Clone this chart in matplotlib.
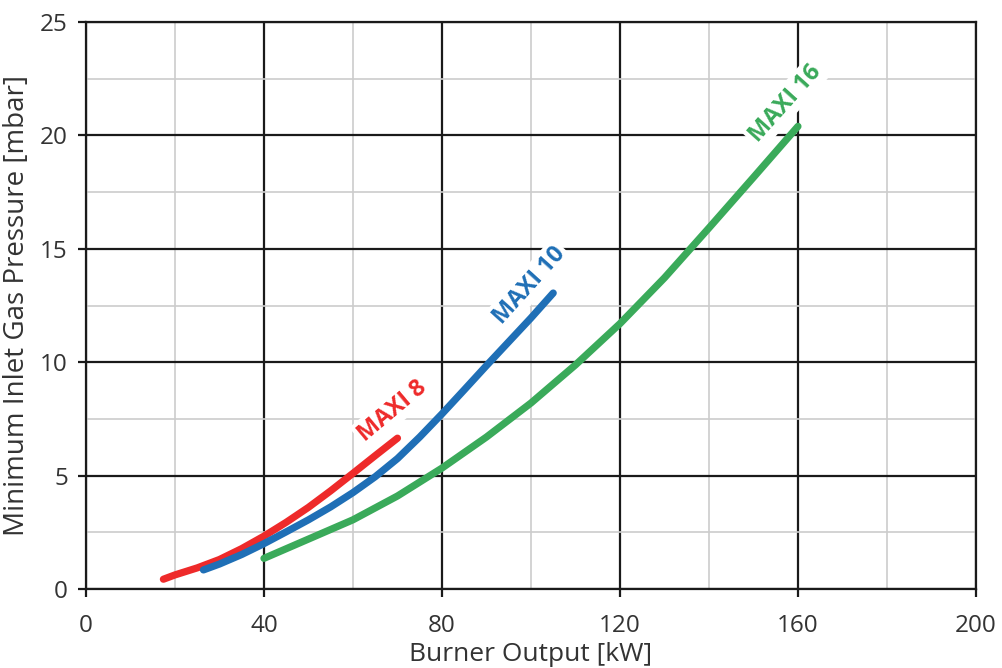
import matplotlib
matplotlib.use("Agg")
import matplotlib.pyplot as plt
from matplotlib.ticker import MultipleLocator

plt.rcParams['font.family'] = ['Open Sans', 'DejaVu Sans']

# Data
maxi8_x = [17.4, 20, 25, 30, 35, 40, 45, 50, 55, 60, 65, 70]
maxi8_y = [0.43, 0.62, 0.93, 1.3, 1.78, 2.33, 2.94, 3.6, 4.33, 5.1, 5.88, 6.65]

maxi10_x = [26.4, 30, 35, 40, 45, 50, 55, 60, 65, 70, 75, 80, 85, 90, 95, 100, 105]
maxi10_y = [0.84, 1.1, 1.52, 2.0, 2.52, 3.05, 3.62, 4.25, 4.95, 5.75, 6.7, 7.72, 8.78, 9.85, 10.9, 11.95, 13.05]

maxi16_x = [40, 50, 60, 70, 80, 90, 100, 110, 120, 130, 140, 150, 160]
maxi16_y = [1.35, 2.2, 3.05, 4.1, 5.33, 6.7, 8.2, 9.88, 11.7, 13.72, 15.92, 18.15, 20.4]

x_ticks = [0, 40, 80, 120, 160, 200]
y_ticks = [0, 5, 10, 15, 20, 25]

series = [
    ("MAXI 8", maxi8_x, maxi8_y, "#ee2a2a", (68.8, 7.85), 40),
    ("MAXI 10", maxi10_x, maxi10_y, "#1f6fb6", (99.6, 13.4), 48),
    ("MAXI 16", maxi16_x, maxi16_y, "#3aaa5a", (157.1, 21.4), 48),
]

fig = plt.figure(figsize=(10.02, 6.68), dpi=100)
ax = fig.add_axes([0.0858, 0.1183, 0.974 - 0.0858, 0.967 - 0.1183])

ax.set_xlim(0, 200)
ax.set_ylim(0, 25)
ax.xaxis.set_major_locator(MultipleLocator(40))
ax.yaxis.set_major_locator(MultipleLocator(5))
ax.xaxis.set_minor_locator(MultipleLocator(20))
ax.yaxis.set_minor_locator(MultipleLocator(2.5))
ax.grid(which='minor', color='#cccccc', linewidth=1.2, zorder=0)
ax.grid(which='major', color='#1a1a1a', linewidth=1.6, zorder=1)
ax.set_axisbelow(True)
for s in ax.spines.values():
    s.set_color('#1a1a1a')
    s.set_linewidth(1.6)
ax.tick_params(which='major', direction='out', length=6, width=1.6, color='#1a1a1a',
               labelsize=17.5, labelcolor='#333333')
ax.tick_params(axis='x', pad=12)
ax.tick_params(axis='y', pad=7)
ax.tick_params(which='minor', length=0)
ax.set_xticks(x_ticks)
ax.set_yticks(y_ticks)
ax.set_xticklabels([str(v) for v in x_ticks])
ax.set_yticklabels([str(v) for v in y_ticks])

for name, xs, ys, col, pos, rot in series:
    ax.plot(xs, ys, color=col, linewidth=5.2, solid_capstyle='round',
            solid_joinstyle='round', zorder=3)
    ax.text(pos[0], pos[1], name, color=col, fontsize=17, fontweight='bold',
            rotation=rot, rotation_mode='anchor', ha='center', va='center', zorder=4,
            bbox=dict(facecolor='white', edgecolor='none', pad=2))

ax.set_xlabel("Burner Output [kW]", fontsize=19, color='#333333')
ax.set_ylabel("Minimum Inlet Gas Pressure [mbar]", fontsize=20, color='#333333')
ax.xaxis.set_label_coords(0.5, -0.093)
ax.yaxis.set_label_coords(-0.062, 0.5)

fig.savefig("out.png", dpi=100)
